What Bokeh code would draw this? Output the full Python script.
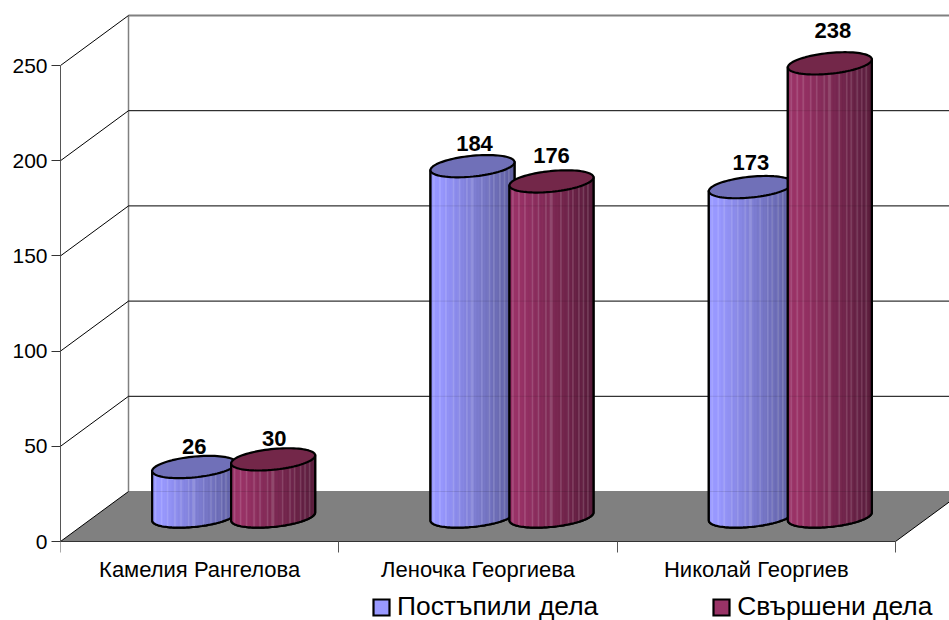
import numpy as np
from bokeh.embed import file_html
from bokeh.resources import INLINE
from bokeh.plotting import figure
from bokeh.core.properties import value
from bokeh.models import Range1d, LinearAxis, FixedTicker, Legend, LegendItem

# ---- data
categories = ["Камелия Рангелова", "Леночка Георгиева", "Николай Георгиев"]
received = [26, 184, 173]
finished = [30, 176, 238]
series_names = ["Постъпили дела", "Свършени дела"]
y_ticks = [0, 50, 100, 150, 200, 250]

# ---- layout constants
W, H = 949, 620
LEFT, BOTTOM = 60, 79
PX_X = 278.33          # px per category
PX_Y = 1.904           # px per value unit
DX = 68 / PX_X         # depth shift of the 3D box
DY = 50 / PX_Y
X_END = (W - LEFT) / PX_X
Y_END = (H - BOTTOM) / PX_Y
Y_START = -BOTTOM / PX_Y
FONT = "Liberation Sans"

p = figure(width=W, height=H, output_backend="svg", toolbar_location=None,
           x_range=Range1d(0, X_END), y_range=Range1d(Y_START, Y_END),
           x_axis_type=None, y_axis_type=None,
           min_border_left=LEFT, min_border_bottom=0, min_border_right=0, min_border_top=0,
           outline_line_color=None, background_fill_color="white", border_fill_color="white")
p.grid.visible = False

# ---- axes
yax = LinearAxis(ticker=FixedTicker(ticks=y_ticks), bounds=(0, 250))
yax.axis_line_color = "#555555"
yax.major_tick_line_color = "#333333"
yax.major_tick_out = 9
yax.major_tick_in = 0
yax.minor_tick_out = 0
yax.major_label_standoff = 4
yax.major_label_text_font = FONT
yax.major_label_text_font_size = "21px"
yax.major_label_text_color = "black"
p.add_layout(yax, "left")

xax = LinearAxis(ticker=FixedTicker(ticks=[i + 0.5 for i in range(len(categories))],
                                    minor_ticks=list(range(len(categories) + 1))),
                 bounds=(0, len(categories)), fixed_location=0)
xax.major_label_overrides = {i + 0.5: c for i, c in enumerate(categories)}
xax.axis_line_color = "#333333"
xax.major_tick_out = 0
xax.major_tick_in = 0
xax.minor_tick_out = 11
xax.minor_tick_in = 0
xax.minor_tick_line_color = "#555555"
xax.major_label_standoff = 4
xax.major_label_text_font = FONT
xax.major_label_text_font_size = "22px"
xax.major_label_text_color = "black"
p.add_layout(xax, "below")

# ---- 3D box
n = len(categories)
p.patch([0, n, n + DX, X_END + 1, DX], [0, 0, DY, DY, DY], fill_color="#808080", line_color=None)
p.line([DX, DX], [DY, DY + y_ticks[-1]], line_color="#808080", line_width=1.5)
p.line([DX, X_END], [DY, DY], line_color="#808080", line_width=1)
top = y_ticks[-1]
p.line([DX, X_END], [DY + top, DY + top], line_color="#808080", line_width=2)
p.multi_line([[DX, X_END] for t in y_ticks[1:-1]], [[DY + t, DY + t] for t in y_ticks[1:-1]],
             line_color="black", line_width=1)
p.multi_line([[0, DX] for t in y_ticks], [[t, t + DY] for t in y_ticks],
             line_color="black", line_width=1)
p.line([n, n + DX], [0, DY], line_color="black", line_width=1)


# ---- cylinders
RX = 42 / PX_X
RY = 10.4 / PX_Y
SKEW = 4 / PX_Y
OFF = 39.5 / PX_X
STRIPES = [0.05, 0.11, 0.19, 0.27, 0.34, 0.43, 0.5, 0.62, 0.7, 0.76, 0.83, 0.89, 0.94]
STYLES = [
    dict(base="#9999FF", left=(0x99, 0x99, 0xFF), right=(0x5E, 0x5E, 0x9E), top="#7070B8"),
    dict(base="#993366", left=(0x9B, 0x34, 0x68), right=(0x58, 0x1E, 0x3C), top="#732749"),
]


def hexc(c):
    return "#%02x%02x%02x" % tuple(int(round(v)) for v in c)


def cylinder(cx, val, style):
    cy0 = DY / 2
    cy1 = val + DY / 2

    # silhouette, also the series' legend swatch
    t = np.linspace(np.pi, 2 * np.pi, 60)
    ox = np.cos(t)
    oy = np.sin(t)
    sx = np.concatenate([[cx - RX], cx + RX * ox, [cx + RX]])
    sy = np.concatenate([[cy1 - SKEW], cy0 + RY * oy + SKEW * ox, [cy1 + SKEW]])
    body = p.patch(sx, sy, fill_color=style["base"], line_color="black", line_width=2.2,
                   line_join="miter")

    edges = np.linspace(-1, 1, 57)
    xs, ys, cols = [], [], []
    for k in range(len(edges) - 1):
        u0, u1 = edges[k], edges[k + 1]
        f = (k + 0.5) / (len(edges) - 1)
        g = 0 if f < 0.12 else (f - 0.12) / 0.88
        c = np.array(style["left"]) * (1 - g) + np.array(style["right"]) * g
        if any(abs(f - s) < 0.009 for s in STRIPES):
            c = c * 0.85 + 255 * 0.15 * np.array([1, 1, 1])
        fr0 = np.sqrt(max(1 - u0 * u0, 0))
        fr1 = np.sqrt(max(1 - u1 * u1, 0))
        xs.append([cx + RX * u0, cx + RX * u1, cx + RX * u1, cx + RX * u0])
        ys.append([cy1 - RY * fr0 + SKEW * u0, cy1 - RY * fr1 + SKEW * u1,
                   cy0 - RY * fr1 + SKEW * u1, cy0 - RY * fr0 + SKEW * u0])
        cols.append(hexc(c))
    p.patches(xs, ys, fill_color=cols, line_color=cols, line_width=0.6)

    # faint gridline ghost through the body
    ghost = [t + DY for t in y_ticks if cy0 < t + DY < cy1 - RY]
    if ghost:
        p.multi_line([[cx - RX, cx + RX] for g in ghost], [[g, g] for g in ghost],
                     line_color="black", line_alpha=0.1, line_width=1)

    # outline over the strips
    p.line(sx, sy, line_color="black", line_width=2.2)

    # top
    a = np.linspace(0, 2 * np.pi, 90)
    p.patch(cx + RX * np.cos(a), cy1 + RY * np.sin(a) + SKEW * np.cos(a),
            fill_color=style["top"], line_color="black", line_width=2.2)
    return body


label_dy = [[20, 21], [23, 26], [25, 33]]   # px above the cylinder top
label_dx = [[0, 1], [2, 0], [0, 3]]
swatch = [None, None]
for i in range(n):
    for s, vals in enumerate([received, finished]):
        cx = i + 0.5 + DX / 2 + (-OFF if s == 0 else OFF)
        b = cylinder(cx, vals[i], STYLES[s])
        if swatch[s] is None:
            swatch[s] = b
for i in range(n):
    for s, vals in enumerate([received, finished]):
        cx = i + 0.5 + DX / 2 + (-OFF if s == 0 else OFF)
        p.text([cx], [vals[i] + DY / 2], text=[str(vals[i])], text_font=value(FONT),
               text_font_style="bold", text_font_size="22px", text_color="black",
               text_align="center", text_baseline="middle",
               x_offset=label_dx[i][s], y_offset=-label_dy[i][s])

# ---- legend
legend = Legend(items=[LegendItem(label=series_names[0], renderers=[swatch[0]]),
                       LegendItem(label=series_names[1], renderers=[swatch[1]])],
                location=(311, -2), orientation="horizontal", border_line_color=None,
                background_fill_alpha=0, padding=0, margin=0, spacing=113,
                glyph_width=20, glyph_height=20, label_standoff=6,
                label_text_font=FONT, label_text_font_size="26.4px", label_text_color="black",
                label_height=20)
p.add_layout(legend, "center")

open("out.html", "w").write(file_html(p, INLINE))
